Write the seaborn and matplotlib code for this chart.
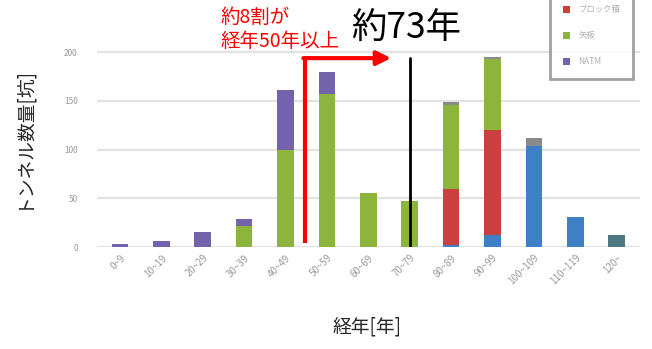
import matplotlib
matplotlib.use("Agg")
import matplotlib.pyplot as plt
from matplotlib.patches import Patch
import numpy as np
import pandas as pd
import seaborn as sns

# ---- data ----
categories = ["0~9", "10~19", "20~29", "30~39", "40~49", "50~59", "60~69",
              "70~79", "80~89", "90~99", "100~109", "110~119", "120~"]
teal_vals   = [0, 0, 0, 0, 0, 0, 0, 0, 0, 0, 0, 0, 12]
blue_vals   = [0, 0, 0, 0, 0, 0, 0, 0, 2, 12, 104, 31, 0]
red_vals    = [0, 0, 0, 0, 0, 0, 0, 0, 58, 108, 0, 0, 0]
green_vals  = [0, 0, 0, 22, 100, 157, 56, 47, 86, 73, 0, 0, 0]
purple_vals = [3, 6, 15, 7, 61, 23, 0, 0, 0, 0, 0, 0, 0]
grey_vals   = [0, 0, 0, 0, 0, 0, 0, 0, 3, 2, 8, 0, 0]

series_names = ["素掘り", "レンガ・石", "ブロック積", "矢板", "NATM", "その他"]
series_vals = [teal_vals, blue_vals, red_vals, green_vals, purple_vals, grey_vals]
series_colors = ["#4d7884", "#3f7fc6", "#c9403f", "#8db53c", "#7363ad", "#8a8a8a"]
yticks = [0, 50, 100, 150, 200]

sns.set_theme(style="white")
plt.rcParams["font.family"] = ["Noto Sans CJK JP", "DejaVu Sans"]

fig = plt.figure(figsize=(6.52, 3.49), dpi=100)
ax = fig.add_axes([0.149, 0.292, 0.833, 0.614])

# stacked bars: draw cumulative totals from top layer down
cum = np.cumsum(np.array(series_vals), axis=0)
for i in range(len(series_vals) - 1, -1, -1):
    df = pd.DataFrame({"cat": categories, "val": cum[i]})
    sns.barplot(data=df, x="cat", y="val", order=categories, color=series_colors[i],
                width=0.4, saturation=1, linewidth=0, edgecolor="none",
                ax=ax, zorder=3)

ax.set_xlim(-0.55, 12.57)
ax.set_ylim(0, 220)
ax.set_yticks(yticks)
ax.set_yticklabels([str(v) for v in yticks], fontsize=6, color="#9a9a9a")
ax.yaxis.grid(True, color="#e3e3e3", linewidth=1.6, zorder=0)
ax.set_axisbelow(True)
for s in ax.spines.values():
    s.set_visible(False)
ax.tick_params(axis="x", length=0, pad=4)
ax.tick_params(axis="y", length=0, pad=14)
ax.set_xticks(range(len(categories)))
ax.set_xticklabels(categories, rotation=45, ha="right", rotation_mode="anchor",
                   fontsize=7, color="#9a9a9a")
ax.set_xlabel("")
ax.set_ylabel("")

fig.text(0.563, 0.063, "経年[年]", fontsize=13.5, ha="center", va="center")
fig.text(0.034, 0.607, "トンネル数量[坑]", fontsize=13.5, ha="center", va="center",
         rotation=90)

# annotations
ax.plot([4.47, 4.47], [4, 194], color="#ff0000", linewidth=3, zorder=5,
        solid_capstyle="butt")
ax.annotate("", xy=(6.55, 194), xytext=(4.43, 194),
            arrowprops=dict(arrowstyle="-|>,head_length=0.7,head_width=0.35",
                            color="#ff0000", lw=3, shrinkA=0, shrinkB=0), zorder=5)
ax.plot([7.0, 7.0], [0, 194], color="black", linewidth=2, zorder=5)
fig.text(0.338, 0.950, "約8割が", fontsize=14, color="#ff0000", ha="left", va="center")
fig.text(0.338, 0.880, "経年50年以上", fontsize=14, color="#ff0000", ha="left", va="center")
fig.text(0.538, 0.918, "約73年", fontsize=25.5, color="black", ha="left", va="center")

# legend: its upper part lies above the figure edge, as in the reference;
# only the visible entries carry labels
visible = [2, 3, 4]
hs = [Patch(facecolor="none", edgecolor="none"), Patch(facecolor="none", edgecolor="none")]
ls = ["", ""]
hs += [Patch(facecolor=series_colors[k], edgecolor="none") for k in visible]
ls += [series_names[k] for k in visible]
leg = fig.legend(hs, ls, loc="lower right", bbox_to_anchor=(0.977, 0.762),
                 fontsize=6, labelspacing=2.05, handlelength=0.9, handleheight=0.9,
                 handletextpad=1.0, borderpad=1.5, frameon=True, fancybox=False)
leg.get_frame().set_edgecolor("#8a8a8a")
leg.get_frame().set_linewidth(2)
for t in leg.get_texts():
    t.set_color("#b0b0b0")

fig.savefig("out.png", dpi=100)
